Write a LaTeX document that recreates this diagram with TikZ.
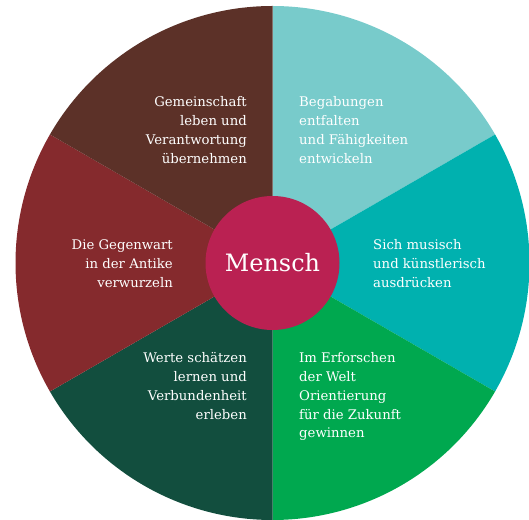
\documentclass[tikz,border=0pt]{standalone}
\usepackage{fontspec}
\setmainfont{DejaVu Serif}
\definecolor{braun}{HTML}{5C3128}
\definecolor{hellpetrol}{HTML}{78CBCB}
\definecolor{petrol}{HTML}{00B1AF}
\definecolor{gruen}{HTML}{00A84F}
\definecolor{dunkelgruen}{HTML}{124E3E}
\definecolor{rot}{HTML}{852A2D}
\definecolor{magenta}{HTML}{BA2152}
\tikzset{
  feld/.style={text=white, inner sep=0pt, font=\fontsize{13.3}{19}\selectfont},
  links/.style={feld, anchor=north east, align=right},
  rechts/.style={feld, anchor=north west, align=left}
}
\begin{document}
\begin{tikzpicture}[x=1bp, y=1bp]
		\useasboundingbox (-272.5,-257) rectangle (256.5,263);
		%sectors
		\foreach \a/\c in {30/hellpetrol, -30/petrol, -90/gruen, -150/dunkelgruen, 150/rot, 90/braun}{
			\fill[\c] (0,0) -- (\a:257) arc[start angle=\a, delta angle=60, radius=257] -- cycle;
		}
		
		%centre
		\node[circle, fill=magenta, minimum size=134bp, inner sep=0pt, text=white, font=\fontsize{24}{30}\selectfont] (mensch) at (0,0){Mensch};
		
		%texts
		\node[links] (gemeinschaft) at (-25.5,166.5){Gemeinschaft\\leben und\\Verantwortung\\übernehmen};
		\node[rechts] (begabungen) at (26.5,166.5){Begabungen\\entfalten\\und Fähigkeiten\\entwickeln};
		\node[rechts] (musisch) at (100.5,23.5){Sich musisch\\und künstlerisch\\ausdrücken};
		\node[rechts] (erforschen) at (26.5,-89){Im Erforschen\\der Welt\\Orientierung\\für die Zukunft\\gewinnen};
		\node[links] (werte) at (-25.5,-89){Werte schätzen\\lernen und\\Verbundenheit\\erleben};
		\node[links] (gegenwart) at (-99.5,23.5){Die Gegenwart\\in der Antike\\verwurzeln};
\end{tikzpicture}
\end{document}
